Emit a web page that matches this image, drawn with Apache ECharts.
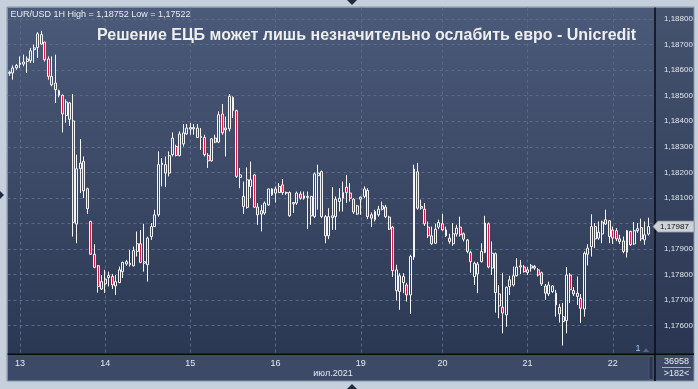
<!DOCTYPE html>
<html>
<head>
<meta charset="utf-8">
<script src="https://cdn.jsdelivr.net/npm/echarts@6/dist/echarts.min.js"></script>
<style>
html,body{margin:0;padding:0;background:#c6d0dc;}
#c{width:698px;height:389px;}
</style>
</head>
<body>
<div id="c"></div>
<script>
// ---- DATA (EUR/USD, 1H candles, 12 Jul 2021 late -> 22 Jul 2021) ----
const opens = [
1.18586,1.18587,1.18607,1.18620,1.18622,1.18632,1.18635,1.18678,1.18687,1.18737,
1.18708,1.18642,1.18574,1.18548,1.18518,1.18500,1.18421,1.18470,1.18400,1.17997,
1.18213,1.18242,1.18135,1.18007,1.17879,1.17834,1.17743,1.17763,1.17788,1.17792,
1.17755,1.17768,1.17811,1.17841,1.17838,1.17834,1.17890,1.17920,1.17844,1.17838,
1.17948,1.17987,1.18033,1.18229,1.18229,1.18196,1.18268,1.18300,1.18265,1.18310,
1.18349,1.18368,1.18369,1.18372,1.18335,1.18335,1.18265,1.18244,1.18333,1.18317,
1.18427,1.18365,1.18369,1.18492,1.18440,1.18179,1.18105,1.18062,1.18144,1.18189,
1.18063,1.18036,1.18040,1.18072,1.18111,1.18118,1.18120,1.18150,1.18118,1.18120,
1.18081,1.18079,1.18114,1.18098,1.18101,1.18105,1.18026,1.18186,1.18202,1.18026,
1.17951,1.18022,1.18026,1.18085,1.18098,1.18141,1.18118,1.18094,1.18036,1.18094,
1.18105,1.18128,1.18033,1.18014,1.18033,1.18055,1.18063,1.18024,1.17985,1.17737,
1.17795,1.17768,1.17759,1.17720,1.17868,1.18201,1.18059,1.18055,1.17985,1.17951,
1.17922,1.17985,1.17998,1.17974,1.17942,1.17920,1.17958,1.17985,1.17959,1.17935,
1.17886,1.17792,1.17802,1.17850,1.17886,1.17998,1.17825,1.17881,1.17677,1.17672,
1.17642,1.17753,1.17759,1.17795,1.17829,1.17829,1.17807,1.17825,1.17825,1.17818,
1.17807,1.17755,1.17724,1.17733,1.17727,1.17672,1.17635,1.17620,1.17798,1.17737,
1.17727,1.17707,1.17665,1.17879,1.17909,1.17987,1.17942,1.17958,1.17997,1.18010,
1.17974,1.17971,1.17939,1.17931,1.17887,1.17968,1.17919,1.17971,1.17983,1.17935,
1.17958];
const closes = [
1.18590,1.18607,1.18617,1.18626,1.18630,1.18642,1.18674,1.18685,1.18740,1.18700,
1.18639,1.18574,1.18541,1.18522,1.18500,1.18427,1.18474,1.18406,1.18004,1.18213,
1.18235,1.18127,1.18057,1.17879,1.17828,1.17753,1.17772,1.17782,1.17796,1.17759,
1.17772,1.17818,1.17847,1.17850,1.17844,1.17893,1.17920,1.17847,1.17850,1.17942,
1.17987,1.18033,1.18229,1.18235,1.18196,1.18264,1.18333,1.18265,1.18349,1.18353,
1.18372,1.18374,1.18374,1.18335,1.18339,1.18268,1.18244,1.18330,1.18317,1.18424,
1.18353,1.18372,1.18496,1.18440,1.18183,1.18189,1.18066,1.18170,1.18170,1.18063,
1.18033,1.18049,1.18079,1.18134,1.18134,1.18134,1.18144,1.18120,1.18120,1.18029,
1.18076,1.18118,1.18098,1.18107,1.18105,1.18029,1.18193,1.18196,1.18026,1.17951,
1.18026,1.18029,1.18094,1.18098,1.18120,1.18120,1.18098,1.18044,1.18068,1.18102,
1.18134,1.18026,1.18020,1.18046,1.18055,1.18068,1.18026,1.17977,1.17815,1.17818,
1.17733,1.17792,1.17720,1.17870,1.18212,1.18059,1.18066,1.17998,1.17951,1.17920,
1.17977,1.18003,1.17974,1.17951,1.17929,1.17959,1.17981,1.17955,1.17938,1.17890,
1.17850,1.17844,1.17841,1.17890,1.18001,1.17829,1.17883,1.17729,1.17724,1.17649,
1.17750,1.17779,1.17795,1.17829,1.17834,1.17811,1.17818,1.17834,1.17831,1.17798,
1.17763,1.17727,1.17759,1.17755,1.17681,1.17646,1.17616,1.17798,1.17740,1.17724,
1.17714,1.17668,1.17883,1.17903,1.17987,1.17939,1.17965,1.18005,1.18014,1.17948,
1.17942,1.17939,1.17929,1.17890,1.17971,1.17916,1.17971,1.17979,1.17939,1.17955,
1.17987];
const lows = [
1.18576,1.18561,1.18600,1.18607,1.18613,1.18587,1.18626,1.18626,1.18646,1.18698,
1.18632,1.18561,1.18535,1.18470,1.18492,1.18355,1.18393,1.18380,1.17948,1.17922,
1.18118,1.18098,1.18036,1.17876,1.17824,1.17729,1.17740,1.17727,1.17753,1.17743,
1.17720,1.17766,1.17786,1.17834,1.17831,1.17831,1.17870,1.17844,1.17811,1.17772,
1.17935,1.17986,1.18026,1.18144,1.18141,1.18183,1.18261,1.18261,1.18261,1.18300,
1.18346,1.18346,1.18346,1.18333,1.18287,1.18261,1.18216,1.18241,1.18313,1.18313,
1.18346,1.18261,1.18359,1.18411,1.18177,1.18137,1.18036,1.18057,1.18098,1.18060,
1.17994,1.17968,1.18033,1.18068,1.18107,1.18081,1.18118,1.18111,1.18111,1.18026,
1.18040,1.18072,1.18092,1.18092,1.17977,1.17994,1.18020,1.18053,1.18020,1.17922,
1.17938,1.17974,1.17974,1.18046,1.18046,1.18079,1.18085,1.18037,1.18033,1.18033,
1.18098,1.18016,1.17985,1.18007,1.18026,1.18050,1.18020,1.17974,1.17790,1.17698,
1.17662,1.17727,1.17694,1.17646,1.17857,1.18053,1.18053,1.17990,1.17942,1.17916,
1.17920,1.17977,1.17971,1.17946,1.17920,1.17912,1.17948,1.17948,1.17929,1.17883,
1.17807,1.17759,1.17727,1.17847,1.17883,1.17824,1.17798,1.17651,1.17629,1.17570,
1.17596,1.17720,1.17753,1.17792,1.17802,1.17807,1.17798,1.17811,1.17818,1.17792,
1.17755,1.17701,1.17716,1.17728,1.17635,1.17612,1.17522,1.17570,1.17688,1.17716,
1.17681,1.17610,1.17635,1.17835,1.17870,1.17903,1.17935,1.17922,1.17994,1.17922,
1.17919,1.17930,1.17919,1.17883,1.17866,1.17912,1.17916,1.17963,1.17930,1.17916,
1.17952];
const highs = [
1.18596,1.18617,1.18622,1.18652,1.18659,1.18652,1.18685,1.18698,1.18747,1.18752,
1.18709,1.18652,1.18652,1.18659,1.18522,1.18503,1.18484,1.18474,1.18505,1.18268,
1.18329,1.18261,1.18139,1.18010,1.17918,1.17837,1.17798,1.17818,1.17811,1.17802,
1.17798,1.17831,1.17850,1.17857,1.17896,1.17909,1.17968,1.17974,1.17998,1.17948,
1.18001,1.18053,1.18281,1.18255,1.18261,1.18281,1.18355,1.18307,1.18359,1.18388,
1.18388,1.18392,1.18388,1.18388,1.18372,1.18346,1.18274,1.18333,1.18346,1.18437,
1.18466,1.18417,1.18505,1.18496,1.18444,1.18216,1.18163,1.18218,1.18241,1.18193,
1.18079,1.18072,1.18085,1.18135,1.18137,1.18144,1.18157,1.18173,1.18124,1.18124,
1.18082,1.18124,1.18124,1.18124,1.18124,1.18107,1.18198,1.18229,1.18206,1.18033,
1.18059,1.18141,1.18105,1.18137,1.18163,1.18189,1.18157,1.18098,1.18072,1.18105,
1.18144,1.18137,1.18042,1.18053,1.18068,1.18085,1.18072,1.18029,1.17990,1.17838,
1.17805,1.17805,1.17768,1.17877,1.18229,1.18236,1.18092,1.18079,1.18007,1.17987,
1.17998,1.18014,1.18037,1.17987,1.17959,1.18001,1.17994,1.18026,1.17964,1.17939,
1.17893,1.17850,1.17849,1.17922,1.18029,1.18003,1.17929,1.17886,1.17759,1.17807,
1.17753,1.17795,1.17831,1.17864,1.17857,1.17837,1.17829,1.17841,1.17837,1.17825,
1.17811,1.17763,1.17772,1.17759,1.17740,1.17685,1.17689,1.17829,1.17805,1.17751,
1.17792,1.17723,1.17890,1.17918,1.18035,1.18001,1.18007,1.18010,1.18053,1.18012,
1.17987,1.17981,1.17955,1.17948,1.17974,1.17971,1.18005,1.18001,1.18018,1.18007,
1.18022];

// first bar of each trading day (candle index) and its label
const dayStartIndex = [3, 27, 51, 75, 99, 122, 146, 170];
const dayLabels = ['13', '14', '15', '16', '19', '20', '21', '22'];
const monthLabel = 'июл.2021';
// price axis ticks
const priceMin = 1.176, priceMax = 1.188, priceStep = 0.001;
const titleText = 'Решение ЕЦБ может лишь незначительно ослабить евро - Unicredit';
const infoText = 'EUR/USD 1H High = 1,18752 Low = 1,17522';
const barsTotal = '36958', barsShown = '>182<', subWindow = '1';

// ---- build ----
const categories = opens.map((_, i) => String(i));
const ohlc = opens.map((o, i) => [o, closes[i], lows[i], highs[i]]);
const fmt = v => v.toFixed(5).replace('.', ',');

const FONT = "'Liberation Sans', Arial, sans-serif";
const chart = echarts.init(document.getElementById('c'), null, {renderer: 'canvas'});

const P = {l: 7.5, t: 7.5, r: 655, b: 354.3, R: 694, B: 381};
const gridColor = '#5b6a88';

const option = {
  animation: false,
  textStyle: {fontFamily: FONT},
  grid: [
    {left: 9.3, right: 698 - 648.3, top: P.t, bottom: 389 - P.b},
    {left: P.l, right: 698 - P.r, top: 19, bottom: 389 - 325.7}
  ],
  xAxis: [
    {
      type: 'category', gridIndex: 0, data: categories, boundaryGap: false,
      axisLine: {show: false}, axisTick: {show: false},
      axisLabel: {
        interval: (i) => dayStartIndex.includes(i),
        formatter: (v, i) => dayLabels[dayStartIndex.indexOf(Number(v))] || '',
        color: '#e6e9ef', fontSize: 9, margin: 4.5, fontFamily: FONT
      },
      splitLine: {
        show: true, interval: (i) => dayStartIndex.includes(i),
        lineStyle: {color: gridColor, width: 1, type: [3, 3]}
      }
    },
    {type: 'value', gridIndex: 1, min: 0, max: 1, show: false}
  ],
  yAxis: [
    {type: 'value', gridIndex: 0, min: 1.174881, max: 1.188430, show: false, splitLine: {show: false}},
    {
      type: 'value', gridIndex: 1, position: 'right',
      min: priceMin, max: priceMax, interval: priceStep,
      axisLine: {show: false}, axisTick: {show: false},
      axisLabel: {formatter: fmt, color: '#e2e6ec', fontSize: 8, margin: 9, fontFamily: FONT},
      splitLine: {show: true, lineStyle: {color: gridColor, width: 1, type: [3, 3]}}
    }
  ],
  series: [{
    type: 'candlestick', xAxisIndex: 0, yAxisIndex: 0,
    data: ohlc, barWidth: 2.4, clip: false,
    itemStyle: {
      color: 'rgba(0,0,0,0)', color0: '#e3173e',
      borderColor: '#f4f4f4', borderColor0: '#f4f4f4', borderWidth: 1
    },
    emphasis: {disabled: true}
  }]
};
chart.setOption(option);

const lastY = chart.convertToPixel({yAxisIndex: 0}, closes[closes.length - 1]);
const bgGrad = new echarts.graphic.LinearGradient(0, 0, 0, 1, [
  {offset: 0, color: '#4b5a79'}, {offset: 1, color: '#2b3853'}
]);
const bgGrad2 = new echarts.graphic.LinearGradient(0, 0, 0, 1, [
  {offset: 0, color: '#45536f'}, {offset: 1, color: '#2a3651'}
]);

const g = [
  // panels (behind)
  {type: 'rect', z: -10, shape: {x: P.l, y: P.t, width: P.r - P.l, height: P.b - P.t}, style: {fill: bgGrad}},
  {type: 'rect', z: -10, shape: {x: P.r, y: P.t, width: P.R - P.r, height: P.b - P.t}, style: {fill: bgGrad2}},
  {type: 'rect', z: -10, shape: {x: P.l, y: P.b, width: P.R - P.l, height: P.B - P.b}, style: {fill: '#3c4a68'}},
  // frame
  {type: 'rect', z: 50, shape: {x: P.l - 0.5, y: P.t - 0.5, width: P.R - P.l + 0.5, height: P.B - P.t + 0.5}, style: {fill: 'none', stroke: '#8794a9', lineWidth: 1}},
  {type: 'line', z: 50, shape: {x1: P.r, y1: P.t, x2: P.r, y2: P.B}, style: {stroke: '#0b0b0e', lineWidth: 1.5}},
  {type: 'line', z: 50, shape: {x1: P.l, y1: P.b, x2: P.R, y2: P.b}, style: {stroke: '#0b0b0e', lineWidth: 1.5}},
  // scrollbar strip
  {type: 'rect', z: 50, shape: {x: 649, y: 356.5, width: 4, height: 23}, style: {fill: '#2a3550', stroke: '#56637c', lineWidth: 0.6}},
  // texts
  {type: 'text', z: 60, style: {text: infoText, x: 10.5, y: 15, fill: '#e8ebf0', font: '9px ' + FONT, textAlign: 'left', textVerticalAlign: 'middle', verticalAlign: 'middle'}},
  {type: 'text', z: 60, style: {text: titleText, x: 97, y: 36, fill: '#eeeeee', font: 'bold 16px ' + FONT, textAlign: 'left', textVerticalAlign: 'middle', verticalAlign: 'middle'}},
  {type: 'text', z: 60, style: {text: monthLabel, x: 333, y: 374, fill: '#e6e9ef', font: '9px ' + FONT, textAlign: 'center', textVerticalAlign: 'middle', verticalAlign: 'middle'}},
  {type: 'text', z: 60, style: {text: subWindow, x: 638, y: 349, fill: '#9fc6f2', font: '9px ' + FONT, textAlign: 'center', textVerticalAlign: 'middle', verticalAlign: 'middle'}},
  {type: 'polygon', z: 60, shape: {points: [[643, 352], [649, 352], [646, 348]]}, style: {fill: '#5b667a'}},
  {type: 'text', z: 60, style: {text: barsTotal, x: 676.5, y: 361.5, fill: '#e6e9ef', font: '9px ' + FONT, textAlign: 'center', textVerticalAlign: 'middle', verticalAlign: 'middle'}},
  {type: 'line', z: 60, shape: {x1: 662, y1: 367.5, x2: 691, y2: 367.5}, style: {stroke: '#c3cad6', lineWidth: 0.8}},
  {type: 'text', z: 60, style: {text: barsShown, x: 676.5, y: 374, fill: '#e6e9ef', font: '9px ' + FONT, textAlign: 'center', textVerticalAlign: 'middle', verticalAlign: 'middle'}},
  // window markers
  {type: 'polygon', z: 60, shape: {points: [[347, 0], [357, 0], [352, 5]]}, style: {fill: '#1f2a40'}},
  {type: 'polygon', z: 60, shape: {points: [[347, 389], [357, 389], [352, 384]]}, style: {fill: '#1f2a40'}},
  {type: 'polygon', z: 60, shape: {points: [[0, 191], [0, 199], [4, 195]]}, style: {fill: '#1f2a40'}},
  // last price tag
  {type: 'polygon', z: 70, shape: {points: [[653, lastY], [658, lastY - 5.5], [694, lastY - 5.5], [694, lastY + 5.5], [658, lastY + 5.5]]}, style: {fill: '#cdd1d8', stroke: '#8a909a', lineWidth: 0.8}},
  {type: 'text', z: 71, style: {text: fmt(closes[closes.length - 1]), x: 660, y: lastY, fill: '#111', font: '8px ' + FONT, textAlign: 'left', textVerticalAlign: 'middle', verticalAlign: 'middle'}}
];
chart.setOption({graphic: g});
</script>
</body>
</html>
